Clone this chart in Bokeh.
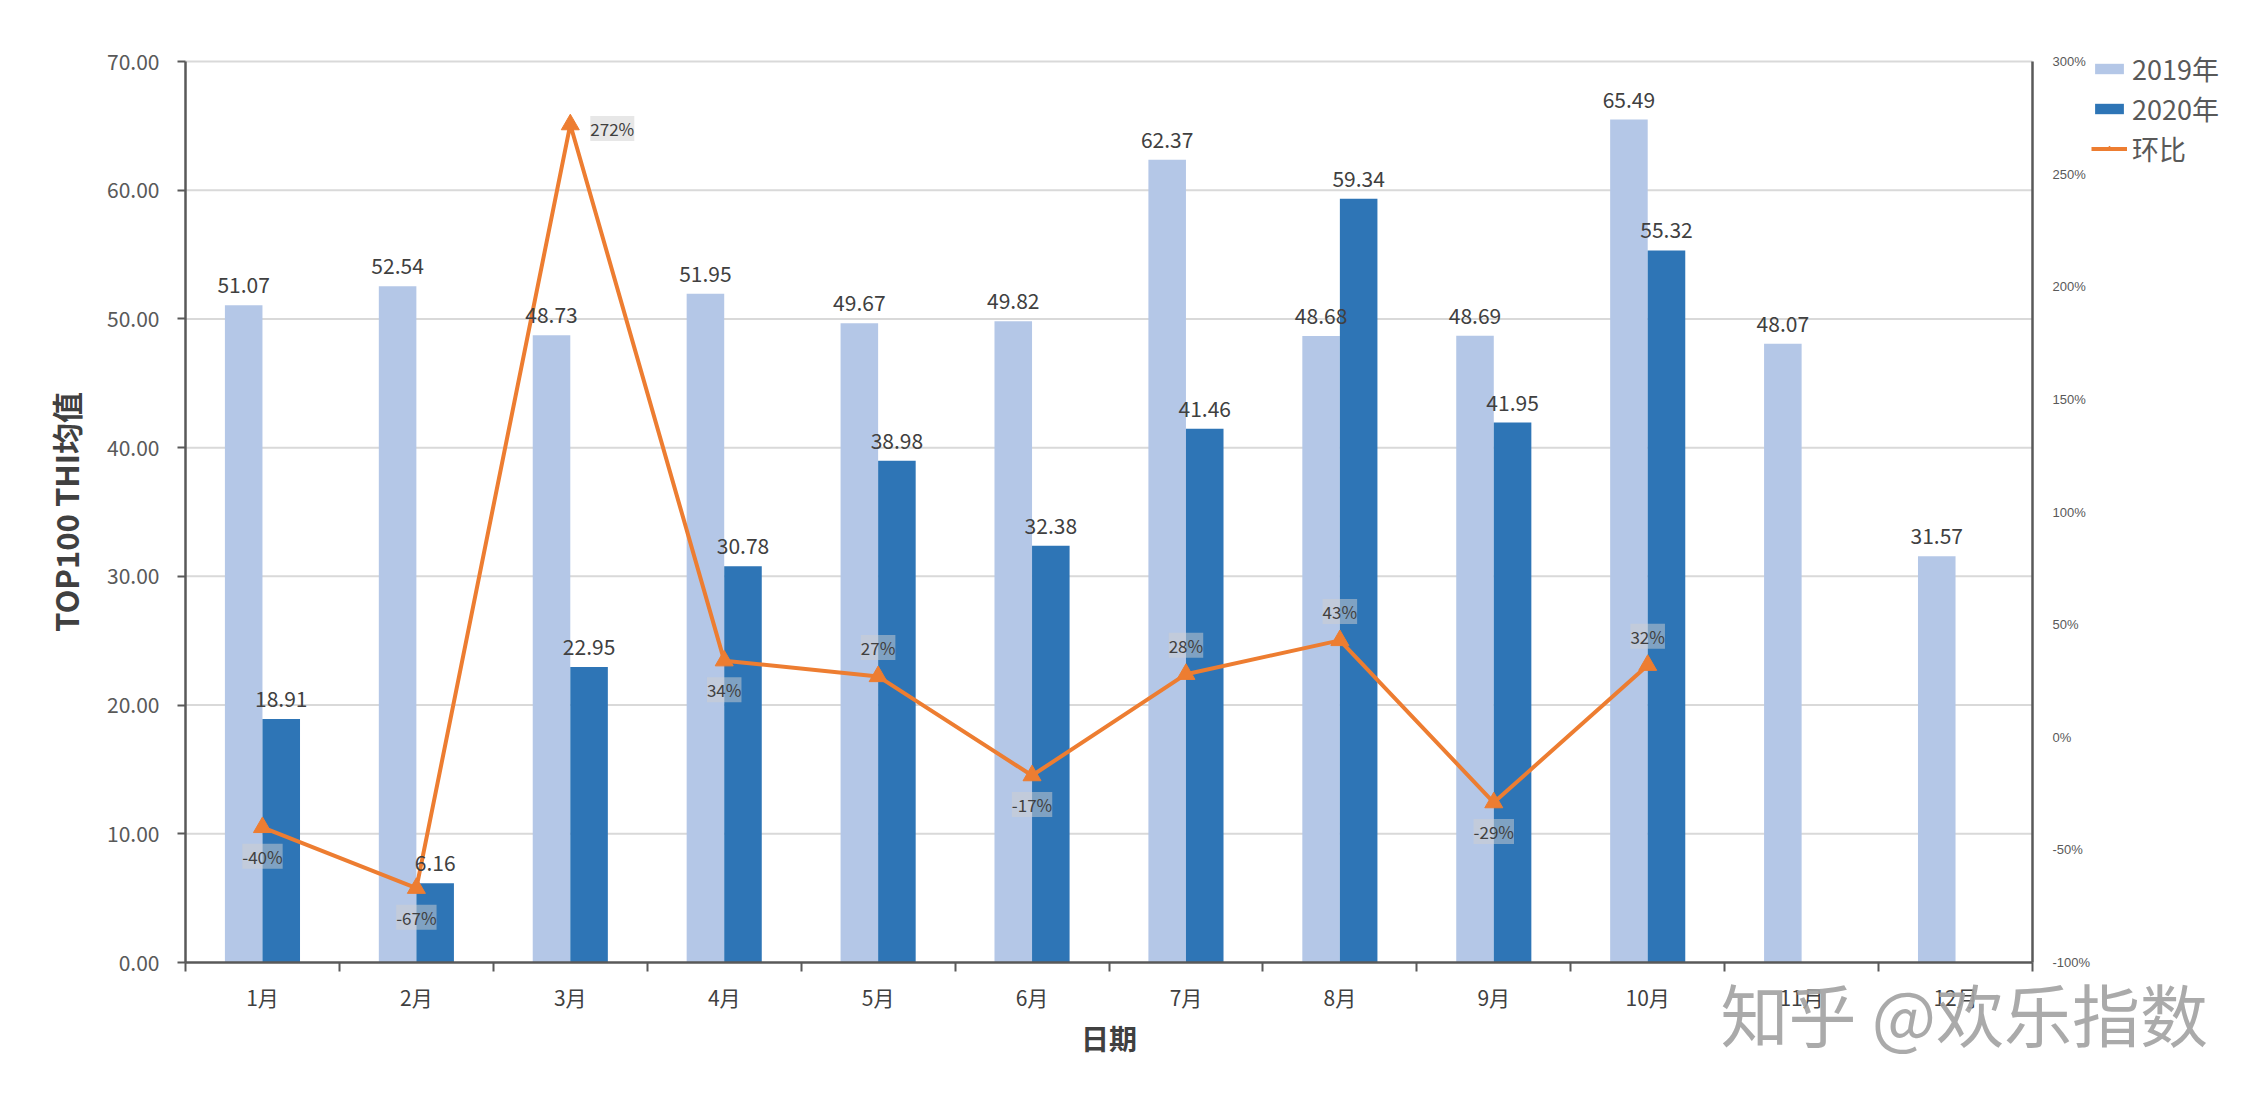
from bokeh.plotting import figure
from bokeh.models import (Range1d, LinearAxis, FixedTicker, NumeralTickFormatter,
                          ColumnDataSource, LabelSet, Legend, LegendItem, Label)
from bokeh.core.properties import value
from bokeh.embed import file_html
from bokeh.resources import INLINE

# ---------------- data ----------------
months = ["1月", "2月", "3月", "4月", "5月", "6月", "7月", "8月", "9月", "10月", "11月", "12月"]
thi_2019 = [51.07, 52.54, 48.73, 51.95, 49.67, 49.82, 62.37, 48.68, 48.69, 65.49, 48.07, 31.57]
thi_2020 = [18.91, 6.16, 22.95, 30.78, 38.98, 32.38, 41.46, 59.34, 41.95, 55.32, None, None]
mom_pct = [-40, -67, 272, 34, 27, -17, 28, 43, -29, 32]
left_ticks = [0, 10, 20, 30, 40, 50, 60, 70]
right_ticks = [-1.0, -0.5, 0.0, 0.5, 1.0, 1.5, 2.0, 2.5, 3.0]

# label placement for the 环比 data labels (style, not data)
label_place = ["below", "below", "right", "below", "above", "below", "above", "above", "below", "above"]

FONT = "Noto Sans CJK SC"
C19 = "#B4C7E7"
C20 = "#2E75B6"
CLINE = "#ED7D31"
AXC = "#595959"
TXT = "#404040"
BAR_W = 0.244

# ---------------- layout (pixels) ----------------
W, H = 2248, 1080
FL, FR, FT, FB = 185, 2032, 61, 962   # where the axes sit on the canvas

n = len(months)
ylo, yhi = left_ticks[0], left_ticks[-1]
plo, phi = right_ticks[0], right_ticks[-1]
sx = n / (FR - FL)
sy = (yhi - ylo) / (FB - FT)
sp = (phi - plo) / (FB - FT)

xc = [i + 0.5 for i in range(n)]

p = figure(width=W, height=H, output_backend="svg", toolbar_location=None,
           x_range=Range1d(-FL * sx, n + (W - FR) * sx),
           y_range=Range1d(ylo - (H - FB) * sy, yhi + FT * sy),
           min_border=0, min_border_left=0, min_border_right=0,
           min_border_top=0, min_border_bottom=0)
p.outline_line_color = None
p.extra_y_ranges = {"pct": Range1d(plo - (H - FB) * sp, phi + FT * sp)}

# ---------------- gridlines ----------------
p.xgrid.grid_line_color = None
p.ygrid.grid_line_color = None
p.segment(x0=0, x1=n, y0=left_ticks[1:], y1=left_ticks[1:], line_color="#d9d9d9", line_width=2)

# ---------------- bars ----------------
src19 = ColumnDataSource(dict(x=[c - BAR_W / 2 for c in xc], top=thi_2019,
                              lab=[f"{v:.2f}" for v in thi_2019]))
idx20 = [i for i, v in enumerate(thi_2020) if v is not None]
src20 = ColumnDataSource(dict(x=[xc[i] + BAR_W / 2 for i in idx20], top=[thi_2020[i] for i in idx20],
                              lab=[f"{thi_2020[i]:.2f}" for i in idx20]))
r19 = p.vbar(x="x", top="top", bottom=0, width=BAR_W, source=src19, fill_color=C19, line_color=None)
r20 = p.vbar(x="x", top="top", bottom=0, width=BAR_W, source=src20, fill_color=C20, line_color=None)

for s in (src19, src20):
    p.add_layout(LabelSet(x="x", y="top", text="lab", source=s, y_offset=12,
                          text_align="center", text_baseline="bottom",
                          text_font=value(FONT), text_font_size="21px", text_color=TXT))

# ---------------- line ----------------
offs = {"below": (0, -29), "above": (0, 29), "right": (42, -4)}
srcl = ColumnDataSource(dict(x=xc[:len(mom_pct)], y=[v / 100 for v in mom_pct],
                             lab=[f"{v}%" for v in mom_pct],
                             xo=[offs[k][0] for k in label_place],
                             yo=[offs[k][1] for k in label_place]))
rl = p.line(x="x", y="y", source=srcl, y_range_name="pct", line_color=CLINE, line_width=4)
rm = p.scatter(x="x", y="y", source=srcl, y_range_name="pct", marker="triangle", size=18,
               fill_color=CLINE, line_color=CLINE)
p.add_layout(LabelSet(x="x", y="y", text="lab", source=srcl, y_range_name="pct",
                      x_offset="xo", y_offset="yo", text_align="center", text_baseline="middle",
                      text_font=value(FONT), text_font_size="17px", text_color=TXT,
                      background_fill_color="#cfcfcf", background_fill_alpha=0.5))

# ---------------- axes ----------------
xa = p.xaxis[0]
xa.fixed_location = 0
xa.bounds = (0, n)
xa.ticker = FixedTicker(ticks=xc, minor_ticks=list(range(n + 1)))
xa.major_label_overrides = {xc[i]: months[i] for i in range(n)}
xa.major_tick_out = 0
xa.major_tick_in = 0
xa.minor_tick_out = 9
xa.minor_tick_in = 0
xa.minor_tick_line_color = AXC
xa.minor_tick_line_width = 2
xa.axis_line_color = AXC
xa.axis_line_width = 2.5
xa.major_label_standoff = 10
xa.major_label_text_font = FONT
xa.major_label_text_font_size = "21px"
xa.major_label_text_color = TXT
xa.axis_label = "日期"
xa.axis_label_text_font = FONT
xa.axis_label_text_font_style = "bold"
xa.axis_label_text_font_size = "28px"
xa.axis_label_text_color = TXT
xa.axis_label_standoff = 3

ya = p.yaxis[0]
ya.fixed_location = 0
ya.bounds = (ylo, yhi)
ya.ticker = FixedTicker(ticks=left_ticks)
ya.formatter = NumeralTickFormatter(format="0.00")
ya.major_label_text_font = FONT
ya.major_label_text_font_size = "21px"
ya.major_label_text_color = AXC
ya.axis_line_color = AXC
ya.axis_line_width = 2.5
ya.major_tick_out = 8
ya.major_tick_in = 0
ya.major_tick_line_color = AXC
ya.major_tick_line_width = 2
ya.minor_tick_line_color = None
ya.major_label_standoff = 18
ya.axis_label = "TOP100 THI均值"
ya.axis_label_text_font = FONT
ya.axis_label_text_font_style = "bold"
ya.axis_label_text_font_size = "31px"
ya.axis_label_text_color = TXT
ya.axis_label_standoff = 16

ra = LinearAxis(y_range_name="pct", ticker=FixedTicker(ticks=right_ticks),
                formatter=NumeralTickFormatter(format="0%"), fixed_location=n, bounds=(plo, phi))
ra.major_label_text_font = "Liberation Sans"
ra.major_label_text_font_size = "13px"
ra.major_label_text_color = AXC
ra.axis_line_color = AXC
ra.axis_line_width = 2.5
ra.major_tick_line_color = None
ra.minor_tick_line_color = None
ra.major_label_standoff = 14
p.add_layout(ra, "right")

# ---------------- legend ----------------
legend = Legend(items=[LegendItem(label="2019年", renderers=[r19]),
                       LegendItem(label="2020年", renderers=[r20]),
                       LegendItem(label="环比", renderers=[rl, rm])],
                location=(2091, H - 168), orientation="vertical",
                label_text_font=FONT, label_text_font_size="27px", label_text_color=AXC,
                glyph_width=36, glyph_height=13, label_height=40, spacing=0,
                label_standoff=5, padding=0, margin=0,
                border_line_color=None, background_fill_alpha=0)
p.add_layout(legend)

# ---------------- watermark ----------------
p.add_layout(Label(x=(1720 - FL) * sx, y=-(1012 - FB) * sy, text="知乎 @欢乐指数",
                   text_align="left", text_baseline="middle", text_font=FONT,
                   text_font_size="68px", text_color="#a3a3a3", text_alpha=0.92))

open("out.html", "w").write(file_html(p, INLINE))
